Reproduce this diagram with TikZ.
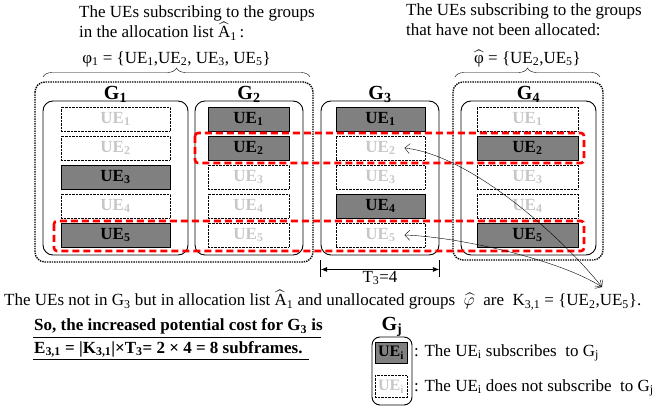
\documentclass[tikz,border=0pt]{standalone}
\usepackage{amsmath}
\usepackage{fontspec}
\setmainfont{Liberation Serif}
\usetikzlibrary{decorations.pathreplacing,arrows.meta}

\newcommand{\txtfont}{\fontsize{17}{20}\selectfont}
\newcommand{\uefont}{\fontsize{17}{17}\selectfont\bfseries}
\newcommand{\gfont}{\fontsize{20}{20}\selectfont\bfseries}

\begin{document}
\begin{tikzpicture}[x=1pt,y=-1pt,
	grp/.style={draw,rounded corners=10pt,line width=0.9pt,inner sep=0pt},
	grpset/.style={densely dotted,line width=1.4pt,rounded corners=10pt},
	ue/.style={minimum height=24pt,inner sep=0pt,font=\uefont},
	sub/.style={ue,draw,fill=black!50,text=black},
	nosub/.style={ue,draw,densely dotted,thin,text=black!22},
	redframe/.style={draw=red,line width=2.6pt,dash pattern=on 7pt off 4pt,rounded corners=3pt},
	glabel/.style={font=\gfont,anchor=base,inner sep=0pt},
	txt/.style={font=\txtfont,inner sep=1pt}]
\useasboundingbox (0,0) rectangle (669,411);
%groups
	\node[grp,minimum width=145pt,minimum height=154pt] (G1) at (115.5,178) {};
	\node[grp,minimum width=108pt,minimum height=154pt] (G2) at (249,178) {};
	\node[grp,minimum width=118pt,minimum height=154pt] (G3) at (380,178) {};
	\node[grp,minimum width=135pt,minimum height=154pt] (G4) at (528.5,178) {};
	\foreach \g in {1,...,4}
		\node[glabel] (lab\g) at ([yshift=1pt]G\g.north) {G\textsubscript{\g}};
%UEs
	\foreach \g/\cx/\w/\row in {1/115.5/109/{nosub,nosub,sub,nosub,sub},
		2/248.5/81/{sub,sub,nosub,nosub,nosub},
		3/380.5/89/{sub,nosub,nosub,sub,nosub},
		4/527.5/101/{nosub,sub,nosub,nosub,sub}}
		\foreach \st [count=\r] in \row
			\node[\st,minimum width=\w pt] (g\g u\r) at (\cx,{90+29*\r}) {UE\textsubscript{\r}};
%allocated and unallocated sets
	\draw[grpset] (35,82) rectangle (313,262);
	\draw[grpset] (453,82) rectangle (603,260);
	\draw[redframe] (195,133) rectangle (584,163);
	\draw[redframe] (54,221) rectangle (584,251);
%braces
	\draw[decorate,decoration={brace,amplitude=9pt}] (43,77) -- (310,77)
		node[midway,above=9pt,txt] (phi1) {φ\textsubscript{1} = \{UE\textsubscript{1},UE\textsubscript{2}, UE\textsubscript{3}, UE\textsubscript{5}\}};
	\draw[decorate,decoration={brace,amplitude=9pt}] (455,77) -- (600,77)
		node[midway,above=9pt,txt] (phihat) {$\widehat{\text{φ}}$ = \{UE\textsubscript{2},UE\textsubscript{5}\}};
	\node[txt,anchor=north west,align=left] (top1) at (78,5) {The UEs subscribing to the groups\\in the allocation list $\widehat{\text{A}}$\textsubscript{1}\,:};
	\node[txt,anchor=north west,align=left] (top2) at (405,3) {The UEs subscribing to the groups\\that have not been allocated:};
%T3
	\draw ([yshift=-5pt]G3.south west) -- ++(0,17);
	\draw ([yshift=-5pt]G3.south east) -- ++(0,17);
	\draw[thick,{Latex}-{Latex}] ([yshift=-14pt]G3.south west) -- ([yshift=-14pt]G3.south east)
		node[midway,below=0pt,txt] (t3) {T\textsubscript{3}=4};
%K set
	\node[txt,anchor=west] (note) at (3,300) {The UEs not in G\textsubscript{3} but in allocation list $\widehat{\text{A}}$\textsubscript{1} and unallocated groups ~$\widehat{\varphi}$~ are ~K\textsubscript{3,1} = \{UE\textsubscript{2},UE\textsubscript{5}\}.};
	\coordinate (kset) at (602,287);
	\draw[{Straight Barb[length=5pt]}-{Straight Barb[length=5pt]}] (kset) .. controls (560,235) and (470,155) .. ([xshift=24pt]g3u2.center);
	\draw[{Straight Barb[length=5pt]}-{Straight Barb[length=5pt]}] (kset) .. controls (560,260) and (460,237) .. ([xshift=24pt]g3u5.center);
%cost
	\node[txt,font=\txtfont\bfseries,anchor=base west] (cost1) at (33,331) {So, the increased potential cost for G\textsubscript{3} is};
	\node[txt,font=\txtfont\bfseries,anchor=base west] (cost2) at (33,353) {E\textsubscript{3,1} = |K\textsubscript{3,1}|×T\textsubscript{3}= 2 × 4 = 8 subframes.};
	\draw[thick] ([yshift=-6pt]cost1.base west) -- ++(288,0);
	\draw[thick] ([yshift=-6pt]cost2.base west) -- ++(276,0);
%legend
	\node[grp,rounded corners=8pt,minimum width=40pt,minimum height=68pt] (leg) at (392,371) {};
	\node[glabel] (labj) at ([yshift=6pt]leg.north) {G\textsubscript{j}};
	\node[sub,minimum width=32pt,minimum height=21pt,font=\fontsize{16}{16}\selectfont\bfseries] (legs) at (391,352.5) {UE\textsubscript{i}};
	\node[nosub,minimum width=32pt,minimum height=22pt,font=\fontsize{16}{16}\selectfont\bfseries] (legn) at (391,386.5) {UE\textsubscript{i}};
	\node[txt,anchor=west] (legst) at (413,353) {: The UE\textsubscript{i} subscribes~ to G\textsubscript{j}};
	\node[txt,anchor=west] (legnt) at (413,388) {: The UE\textsubscript{i} does not subscribe~ to G\textsubscript{j}};
\end{tikzpicture}
\end{document}
